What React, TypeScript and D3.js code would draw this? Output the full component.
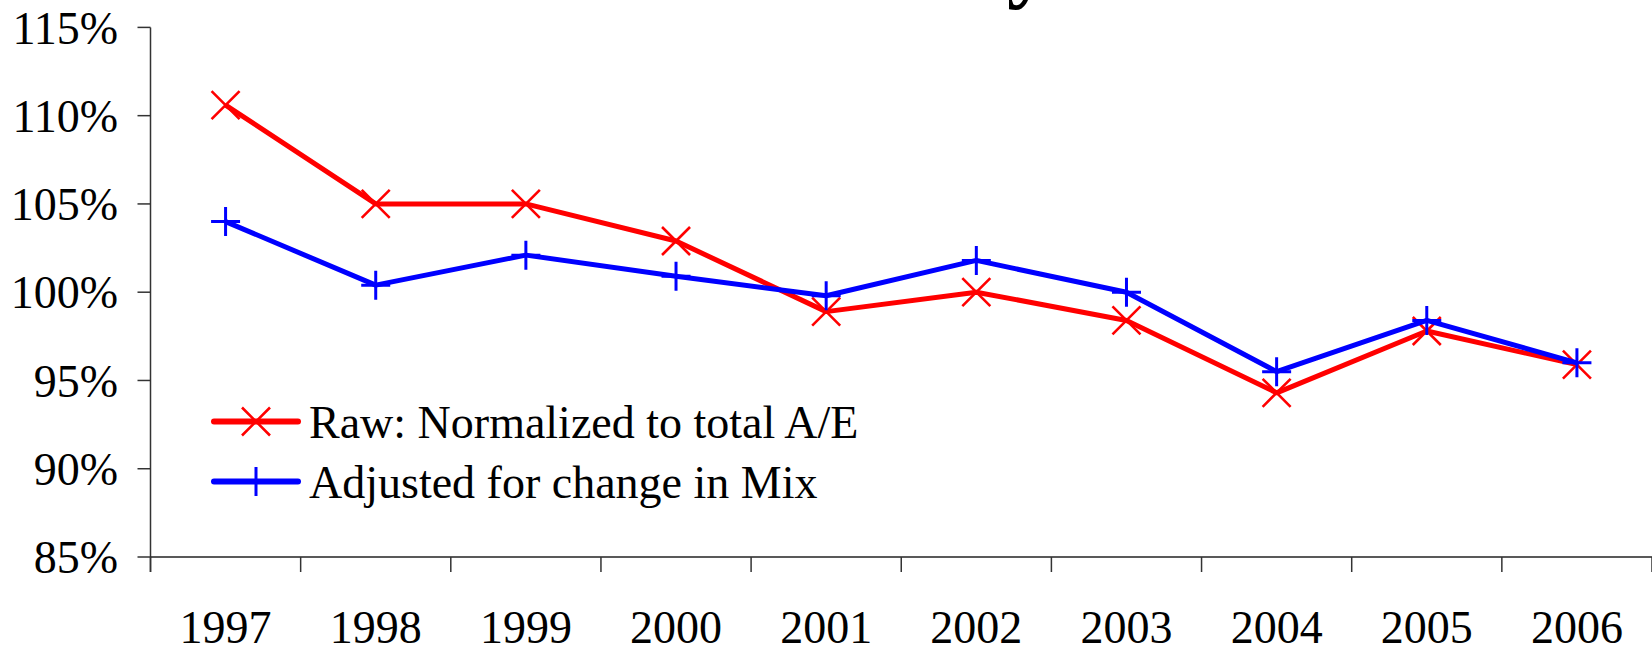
import React from "react";
import * as d3 from "d3";

const years = ["1997", "1998", "1999", "2000", "2001", "2002", "2003", "2004", "2005", "2006"];
const rawValues = [110.6, 105.0, 105.0, 102.9, 98.9, 100.0, 98.4, 94.3, 97.8, 95.9];
const adjustedValues = [104.0, 100.4, 102.1, 100.9, 99.8, 101.8, 100.0, 95.5, 98.4, 96.0];
const yTicks = [85, 90, 95, 100, 105, 110, 115];
const seriesNames = ["Raw: Normalized to total A/E", "Adjusted for change in Mix"];
const titleText = "Mortality";

const W = 1652;
const H = 645;
const FONT = "'Liberation Serif', 'Times New Roman', serif";

export default function App() {
  const x = d3.scaleBand<string>().domain(years).range([150.5, 1652]).padding(0);
  const y = d3.scaleLinear().domain([85, 115]).range([557, 27.4]);
  const cx = (yr: string) => (x(yr) as number) + x.bandwidth() / 2;

  const line = d3
    .line<number>()
    .x((_, i) => cx(years[i]))
    .y((v) => y(v));

  const boundaries = years.map((yr) => x(yr) as number).concat([(x(years[years.length - 1]) as number) + x.bandwidth()]);

  const xMark = (px: number, py: number, s: number, key: string) => (
    <path
      key={key}
      d={`M${px - s},${py - s}L${px + s},${py + s}M${px - s},${py + s}L${px + s},${py - s}`}
      stroke="#ff0000"
      strokeWidth={2.6}
      fill="none"
    />
  );
  const plusMark = (px: number, py: number, s: number, key: string) => (
    <path
      key={key}
      d={`M${px - s},${py}L${px + s},${py}M${px},${py - s}L${px},${py + s}`}
      stroke="#0000ff"
      strokeWidth={3}
      fill="none"
    />
  );

  const x0 = x.range()[0];
  const axisY = y(85);

  return (
    <div style={{ position: "absolute", left: 0, top: 0 }}>
      <svg width={W} height={H} style={{ display: "block", background: "#fff" }}>
        <text
          x={1050}
          y={-9}
          textAnchor="end"
          dominantBaseline="alphabetic"
          fontFamily={FONT}
          fontWeight={700}
          fontSize={86}
          fill="#000"
        >
          {titleText}
        </text>

        {/* Y axis */}
        <line x1={x0} x2={x0} y1={y(115)} y2={axisY + 15} stroke="#333" strokeWidth={1.5} />
        {yTicks.map((t) => (
          <g key={t}>
            <line x1={x0 - 13} x2={x0} y1={y(t)} y2={y(t)} stroke="#333" strokeWidth={1.5} />
            <text
              x={118}
              y={y(t)}
              dy="0.35em"
              textAnchor="end"
              fontFamily={FONT}
              fontSize={46}
              fill="#000"
            >
              {t}%
            </text>
          </g>
        ))}

        {/* X axis */}
        <line x1={x0} x2={W} y1={axisY} y2={axisY} stroke="#222" strokeWidth={1.5} />
        {boundaries.map((b, i) => (
          <line key={i} x1={b} x2={b} y1={axisY} y2={axisY + 15} stroke="#333" strokeWidth={1.5} />
        ))}
        {years.map((yr) => (
          <text key={yr} x={cx(yr)} y={643} textAnchor="middle" fontFamily={FONT} fontSize={46} fill="#000">
            {yr}
          </text>
        ))}

        {/* Raw series */}
        <path d={line(rawValues) || ""} stroke="#ff0000" strokeWidth={5} fill="none" strokeLinejoin="round" />
        {rawValues.map((v, i) => xMark(cx(years[i]), y(v), 14, "r" + i))}

        {/* Adjusted series */}
        <path d={line(adjustedValues) || ""} stroke="#0000ff" strokeWidth={5} fill="none" strokeLinejoin="round" />
        {adjustedValues.map((v, i) => plusMark(cx(years[i]), y(v), 14.5, "b" + i))}

        {/* Legend */}
        <line x1={214} x2={298} y1={421.5} y2={421.5} stroke="#ff0000" strokeWidth={6} strokeLinecap="round" />
        {xMark(256, 421.5, 14, "lr")}
        <text x={309} y={438} fontFamily={FONT} fontSize={46} fill="#000">
          {seriesNames[0]}
        </text>
        <line x1={214} x2={298} y1={481.5} y2={481.5} stroke="#0000ff" strokeWidth={6} strokeLinecap="round" />
        {plusMark(256, 481.5, 14.5, "lb")}
        <text x={309} y={498} fontFamily={FONT} fontSize={46} fill="#000">
          {seriesNames[1]}
        </text>
      </svg>
    </div>
  );
}
